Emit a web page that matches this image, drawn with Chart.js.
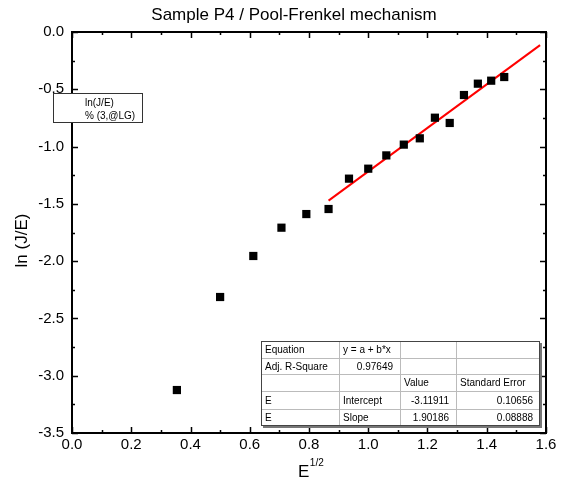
<!DOCTYPE html>
<html>
<head>
<meta charset="utf-8">
<script src="https://cdn.jsdelivr.net/npm/chart.js@4.4.1/dist/chart.umd.min.js"></script>
<style>
  html, body { margin: 0; padding: 0; background: #fff; }
  #wrap { width: 562px; height: 486px; position: relative; }
</style>
</head>
<body>
<div id="wrap"><canvas id="c" width="562" height="486"></canvas></div>
<script>
// Measured points: square root of field vs ln(J/E)
const sqrtE = [0.354, 0.500, 0.612, 0.707, 0.791, 0.866, 0.935, 1.000, 1.061, 1.120, 1.174, 1.225, 1.275, 1.323, 1.370, 1.415, 1.459];
const lnJE  = [-3.125, -2.313, -1.955, -1.708, -1.589, -1.545, -1.280, -1.193, -1.077, -0.983, -0.928, -0.748, -0.794, -0.550, -0.451, -0.425, -0.393];

// Linear fit y = a + b*x over the high-field points
const fitIntercept = -3.11911;
const fitSlope = 1.90186;
const fitXRange = [0.866, 1.58];

// Axis ticks
const xMajorTicks = [0.0, 0.2, 0.4, 0.6, 0.8, 1.0, 1.2, 1.4, 1.6];
const xMinorTicks = [0.1, 0.3, 0.5, 0.7, 0.9, 1.1, 1.3, 1.5];
const yMajorTicks = [0.0, -0.5, -1.0, -1.5, -2.0, -2.5, -3.0, -3.5];
const yMinorTicks = [-0.25, -0.75, -1.25, -1.75, -2.25, -2.75, -3.25];

// Texts
const chartTitle = 'Sample P4 / Pool-Frenkel mechanism';
const xTitleBase = 'E';
const xTitleSup = '1/2';
const yTitle = 'ln (J/E)';
const legendLines = ['ln(J/E)', '% (3,@LG)'];
const fitTableRows = [
  ['Equation', 'y = a + b*x', '', ''],
  ['Adj. R-Square', '0.97649', '', ''],
  ['', '', 'Value', 'Standard Error'],
  ['E', 'Intercept', '-3.11911', '0.10656'],
  ['E', 'Slope', '1.90186', '0.08888']
];
const fitTableRightAligned = [
  [false, false, false, false],
  [false, true, false, false],
  [false, false, false, false],
  [false, false, true, true],
  [false, false, true, true]
];

const FONT = '"Liberation Sans", Arial, Helvetica, sans-serif';

const scatterPoints = sqrtE.map((x, i) => ({ x: x, y: lnJE[i] }));
const fitPoints = fitXRange.map(x => ({ x: x, y: fitIntercept + fitSlope * x }));

// Frame, inward ticks, titles, legend box and fit table
const decorations = {
  id: 'decorations',
  beforeDatasetsDraw(chart) {
    const { ctx, chartArea: a, scales: { x, y } } = chart;
    ctx.save();
    ctx.strokeStyle = '#000';
    ctx.lineWidth = 2;
    ctx.strokeRect(a.left, a.top, a.right - a.left, a.bottom - a.top);
    ctx.lineWidth = 1.5;
    const tickX = (v, len) => {
      const px = Math.round(x.getPixelForValue(v)) + 0.5;
      ctx.beginPath();
      ctx.moveTo(px, a.bottom); ctx.lineTo(px, a.bottom - len);
      ctx.moveTo(px, a.top); ctx.lineTo(px, a.top + len);
      ctx.stroke();
    };
    const tickY = (v, len) => {
      const py = Math.round(y.getPixelForValue(v)) + 0.5;
      ctx.beginPath();
      ctx.moveTo(a.left, py); ctx.lineTo(a.left + len, py);
      ctx.moveTo(a.right, py); ctx.lineTo(a.right - len, py);
      ctx.stroke();
    };
    xMajorTicks.forEach(v => tickX(v, 6));
    xMinorTicks.forEach(v => tickX(v, 3));
    yMajorTicks.forEach(v => tickY(v, 6));
    yMinorTicks.forEach(v => tickY(v, 3));
    ctx.restore();
  },
  afterDraw(chart) {
    const { ctx, chartArea: a } = chart;
    ctx.save();
    ctx.fillStyle = '#000';

    // title
    ctx.font = '17px ' + FONT;
    ctx.textAlign = 'center';
    ctx.textBaseline = 'alphabetic';
    ctx.fillText(chartTitle, 294, 20);

    // x axis title with superscript
    ctx.textAlign = 'left';
    ctx.font = '17px ' + FONT;
    const ex = 298;
    ctx.fillText(xTitleBase, ex, 477);
    const ew = ctx.measureText(xTitleBase).width;
    ctx.font = '10px ' + FONT;
    ctx.fillText(xTitleSup, ex + ew + 0.5, 466);

    // y axis title
    ctx.save();
    ctx.translate(27, (a.top + a.bottom) / 2 + 8);
    ctx.rotate(-Math.PI / 2);
    ctx.font = '17px ' + FONT;
    ctx.textAlign = 'center';
    ctx.fillText(yTitle, 0, 0);
    ctx.restore();

    // legend box
    ctx.fillStyle = '#fff';
    ctx.fillRect(53, 93, 90, 29);
    ctx.strokeStyle = '#333';
    ctx.lineWidth = 1;
    ctx.strokeRect(53.5, 93.5, 89, 29);
    ctx.fillStyle = '#000';
    ctx.font = '10px ' + FONT;
    ctx.textAlign = 'left';
    ctx.textBaseline = 'middle';
    ctx.fillText(legendLines[0], 85, 103);
    ctx.fillText(legendLines[1], 85, 116);

    // fit result table
    const tx = 261, ty = 341;
    const colEdges = [261, 339, 400, 456, 540];
    const rowEdges = [341, 358, 374, 391, 409, 426];
    ctx.fillStyle = '#777';
    ctx.fillRect(tx + 2, ty + 2, colEdges[4] - tx, rowEdges[5] - ty);
    ctx.fillStyle = '#fff';
    ctx.fillRect(tx, ty, colEdges[4] - tx, rowEdges[5] - ty);
    ctx.strokeStyle = '#bbb';
    ctx.lineWidth = 1;
    ctx.beginPath();
    for (let r = 1; r < rowEdges.length - 1; r++) {
      ctx.moveTo(tx, rowEdges[r] + 0.5); ctx.lineTo(colEdges[4], rowEdges[r] + 0.5);
    }
    for (let c = 1; c < colEdges.length - 1; c++) {
      ctx.moveTo(colEdges[c] + 0.5, ty); ctx.lineTo(colEdges[c] + 0.5, rowEdges[5]);
    }
    ctx.stroke();
    ctx.strokeStyle = '#444';
    ctx.strokeRect(tx + 0.5, ty + 0.5, colEdges[4] - tx - 1, rowEdges[5] - ty - 1);

    ctx.fillStyle = '#000';
    ctx.font = '10px ' + FONT;
    ctx.textBaseline = 'middle';
    fitTableRows.forEach((row, r) => {
      const cy = (rowEdges[r] + rowEdges[r + 1]) / 2 + 1;
      row.forEach((txt, c) => {
        if (!txt) return;
        if (fitTableRightAligned[r][c]) {
          ctx.textAlign = 'right';
          ctx.fillText(txt, colEdges[c + 1] - 7, cy);
        } else {
          ctx.textAlign = 'left';
          ctx.fillText(txt, colEdges[c] + 4, cy);
        }
      });
    });
    ctx.restore();
  }
};

new Chart(document.getElementById('c'), {
  type: 'scatter',
  data: {
    datasets: [
      {
        label: 'ln(J/E)',
        data: scatterPoints,
        pointStyle: 'rect',
        pointRadius: 5.8,
        backgroundColor: '#000',
        borderWidth: 0
      },
      {
        label: 'fit',
        type: 'line',
        data: fitPoints,
        borderColor: '#ff0000',
        borderWidth: 2,
        pointRadius: 0,
        fill: false,
        tension: 0
      }
    ]
  },
  options: {
    responsive: false,
    animation: false,
    events: [],
    layout: { padding: { top: 32, right: 16, left: 0, bottom: 0 } },
    plugins: {
      legend: { display: false },
      title: { display: false },
      tooltip: { enabled: false }
    },
    scales: {
      x: {
        type: 'linear',
        min: 0,
        max: 1.6,
        afterBuildTicks: s => { s.ticks = xMajorTicks.map(v => ({ value: v })); },
        afterFit: s => { s.height = 53; },
        ticks: {
          color: '#000',
          font: { size: 15, family: FONT },
          padding: 3,
          maxRotation: 0,
          autoSkip: false,
          callback: v => Number(v).toFixed(1)
        },
        grid: { display: false, drawTicks: false },
        border: { display: false }
      },
      y: {
        type: 'linear',
        min: -3.5,
        max: 0,
        afterBuildTicks: s => { s.ticks = yMajorTicks.map(v => ({ value: v })); },
        afterFit: s => { s.width = 72; },
        ticks: {
          color: '#000',
          font: { size: 15, family: FONT },
          padding: 8,
          autoSkip: false,
          callback: v => Number(v).toFixed(1)
        },
        grid: { display: false, drawTicks: false },
        border: { display: false }
      }
    }
  },
  plugins: [decorations]
});
</script>
</body>
</html>
